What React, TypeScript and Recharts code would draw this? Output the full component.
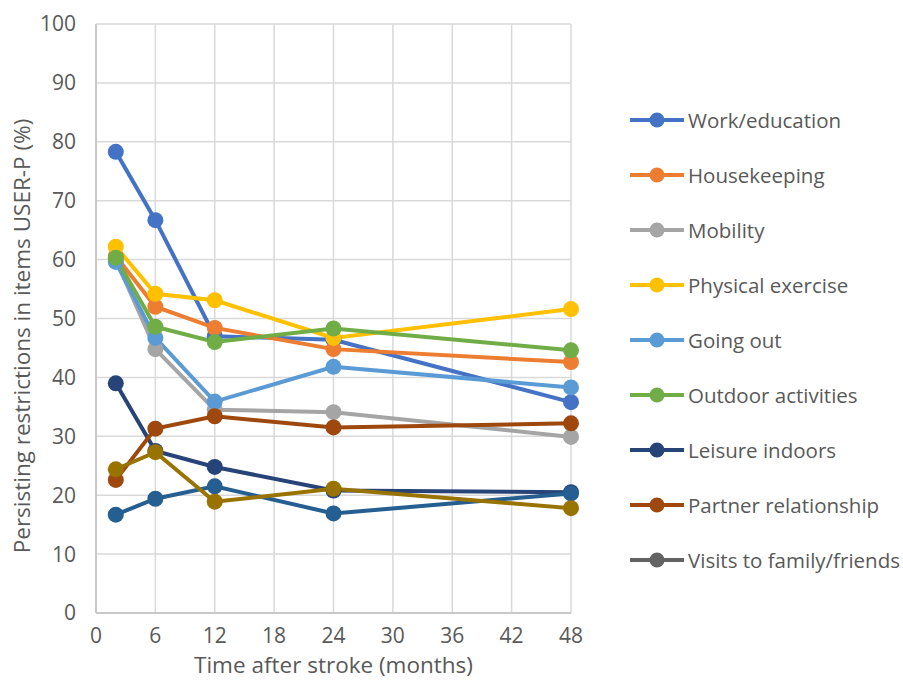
import React from "react";
import { LineChart, Line, XAxis, YAxis, CartesianGrid } from "recharts";

const months = [2, 6, 12, 24, 48];
const workEducation = [78.3, 66.7, 47.0, 46.4, 35.8];
const housekeeping = [60.6, 52.0, 48.4, 44.8, 42.6];
const mobility = [60.0, 44.8, 34.5, 34.1, 29.9];
const physicalExercise = [62.2, 54.2, 53.1, 46.7, 51.6];
const goingOut = [59.6, 46.7, 35.9, 41.8, 38.3];
const outdoorActivities = [60.3, 48.6, 46.0, 48.3, 44.6];
const leisureIndoors = [39.0, 27.5, 24.8, 20.8, 20.5];
const partnerRelationship = [22.6, 31.3, 33.4, 31.5, 32.2];
const visitsFrom = [16.7, 19.4, 21.5, 16.9, 20.3];
const relationshipFriends = [24.4, 27.3, 18.9, 21.1, 17.8];

const xTicks = [0, 6, 12, 18, 24, 30, 36, 42, 48];
const yTicks = [0, 10, 20, 30, 40, 50, 60, 70, 80, 90, 100];

const series = [
  { key: "work", name: "Work/education", values: workEducation, color: "#4472C4", legend: true },
  { key: "house", name: "Housekeeping", values: housekeeping, color: "#ED7D31", legend: true },
  { key: "mob", name: "Mobility", values: mobility, color: "#A5A5A5", legend: true },
  { key: "phys", name: "Physical exercise", values: physicalExercise, color: "#FFC000", legend: true },
  { key: "going", name: "Going out", values: goingOut, color: "#5B9BD5", legend: true },
  { key: "outdoor", name: "Outdoor activities", values: outdoorActivities, color: "#70AD47", legend: true },
  { key: "leisure", name: "Leisure indoors", values: leisureIndoors, color: "#264478", legend: true },
  { key: "partner", name: "Partner relationship", values: partnerRelationship, color: "#9E480E", legend: true },
  { key: "visits", name: "Visits to family/friends", values: null as number[] | null, color: "#636363", legend: true },
  { key: "visitsFrom", name: "Visits from family/friends", values: visitsFrom, color: "#255E91", legend: false },
  { key: "relation", name: "Relationship with family/friends", values: relationshipFriends, color: "#997300", legend: false },
];

const data = months.map((m, i) => {
  const row: Record<string, number> = { month: m };
  series.forEach((s) => {
    if (s.values) row[s.key] = s.values[i];
  });
  return row;
});

const FONT = "'Open Sans', 'Noto Sans', sans-serif";
const TEXT = "#595959";

export default function App() {
  return (
    <div style={{ position: "absolute", left: 0, top: 0, width: 903, height: 681, background: "#fff", fontFamily: FONT }}>
      <LineChart
        width={903}
        height={681}
        data={data}
        margin={{ top: 24, right: 332, left: 0, bottom: 0 }}
      >
        <CartesianGrid stroke="#D9D9D9" strokeWidth={1.5} vertical={true} horizontal={true} />
        <XAxis
          dataKey="month"
          type="number"
          domain={[0, 48]}
          ticks={xTicks}
          interval={0}
          height={68}
          tickSize={0}
          tickMargin={15}
          axisLine={{ stroke: "#BFBFBF", strokeWidth: 1.5 }}
          tickLine={false}
          tick={{ fill: TEXT, fontSize: 21, fontFamily: FONT }}
          label={{
            value: "Time after stroke (months)",
            position: "insideBottom",
            offset: 8,
            fill: TEXT,
            fontSize: 22.5,
            fontFamily: FONT,
          }}
        />
        <YAxis
          type="number"
          domain={[0, 100]}
          ticks={yTicks}
          interval={0}
          width={96}
          tickSize={0}
          tickMargin={20}
          axisLine={{ stroke: "#BFBFBF", strokeWidth: 1.5 }}
          tickLine={false}
          tick={{ fill: TEXT, fontSize: 21, fontFamily: FONT }}
          label={{
            content: () => (
              <text
                x={24}
                y={336}
                transform="rotate(-90 24 336)"
                textAnchor="middle"
                dominantBaseline="middle"
                fill={TEXT}
                fontSize={22.5}
                fontFamily={FONT}
              >
                Persisting restrictions in items USER-P (%)
              </text>
            ),
          }}
        />
        {series
          .filter((s) => s.values)
          .map((s) => (
            <Line
              key={s.key}
              dataKey={s.key}
              name={s.name}
              stroke={s.color}
              strokeWidth={4}
              dot={{ r: 8, fill: s.color, stroke: s.color, strokeWidth: 0 }}
              activeDot={false}
              isAnimationActive={false}
            />
          ))}
      </LineChart>
      <div style={{ position: "absolute", left: 630, top: 0 }}>
        {series
          .filter((s) => s.legend)
          .map((s, i) => (
            <div
              key={s.key}
              style={{ position: "absolute", left: 0, top: 120 + i * 55 - 15, height: 30, display: "flex", alignItems: "center", whiteSpace: "nowrap" }}
            >
              <svg width={56} height={20} style={{ display: "block" }}>
                <line x1={0} y1={10} x2={54} y2={10} stroke={s.color} strokeWidth={4} />
                <circle cx={27} cy={10} r={7.5} fill={s.color} />
              </svg>
              <span style={{ color: TEXT, fontSize: 20.5, fontFamily: FONT, marginLeft: 2 }}>{s.name}</span>
            </div>
          ))}
      </div>
    </div>
  );
}
